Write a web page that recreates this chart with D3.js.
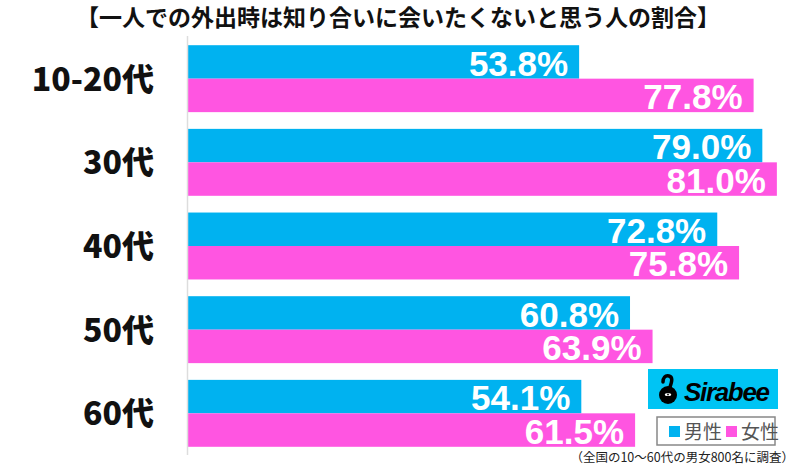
<!DOCTYPE html>
<html>
<head>
<meta charset="utf-8">
<script src="https://cdn.jsdelivr.net/npm/d3@7"></script>
<style>
  body { margin: 0; background: #fff; }
  svg { display: block; }
</style>
</head>
<body>
<div id="main"></div>
<script>
const categories = ["10-20代", "30代", "40代", "50代", "60代"];
const seriesNames = ["男性", "女性"];
const maleValues = [53.8, 79.0, 72.8, 60.8, 54.1];
const femaleValues = [77.8, 81.0, 75.8, 63.9, 61.5];

const width = 800;
const height = 466;
const colors = ["#00b2f0", "#ff55e1"];
const jpFont = "'Noto Sans CJK JP', sans-serif";
const numFont = "'Liberation Sans', Arial, sans-serif";

const svg = d3.select("#main").append("svg")
  .attr("width", width)
  .attr("height", height);

// title
svg.append("text")
  .attr("x", 398)
  .attr("y", 26)
  .attr("text-anchor", "middle")
  .style("font-family", jpFont)
  .style("font-weight", 700)
  .style("font-size", "23px")
  .attr("fill", "#111")
  .text("【一人での外出時は知り合いに会いたくないと思う人の割合】");

const x = d3.scaleLinear().domain([0, 100]).range([188, 915]);
const y = d3.scaleBand().domain(categories).range([36, 456])
  .paddingInner(0.2).paddingOuter(0.11);
const sub = d3.scaleBand().domain(seriesNames).range([0, y.bandwidth()]);

const rows = categories.map((c, i) => ({
  cat: c,
  vals: [
    { name: seriesNames[0], v: maleValues[i], color: colors[0] },
    { name: seriesNames[1], v: femaleValues[i], color: colors[1] }
  ]
}));

const g = svg.selectAll("g.row").data(rows).enter().append("g")
  .attr("class", "row")
  .attr("transform", d => "translate(0," + y(d.cat) + ")");

g.selectAll("rect").data(d => d.vals).enter().append("rect")
  .attr("x", x(0))
  .attr("y", d => sub(d.name))
  .attr("width", d => x(d.v) - x(0))
  .attr("height", sub.bandwidth())
  .attr("fill", d => d.color);

g.selectAll("text.val").data(d => d.vals).enter().append("text")
  .attr("class", "val")
  .attr("x", d => x(d.v) - 11)
  .attr("y", d => sub(d.name) + sub.bandwidth() - 3)
  .attr("text-anchor", "end")
  .style("font-family", numFont)
  .style("font-weight", 700)
  .style("font-size", "35px")
  .attr("fill", "#fff")
  .text(d => d.v.toFixed(1) + "%");

// category labels
g.append("text")
  .attr("x", 154)
  .attr("y", y.bandwidth() / 2 + 12)
  .attr("text-anchor", "end")
  .style("font-family", jpFont)
  .style("font-weight", 900)
  .style("font-size", "32px")
  .attr("fill", "#111")
  .text(d => d.cat);

// axis line
svg.append("line")
  .attr("x1", x(0) - 0.5).attr("x2", x(0) - 0.5)
  .attr("y1", 36).attr("y2", 455)
  .attr("stroke", "#ddd")
  .attr("stroke-width", 1.5);

// logo
const logo = svg.append("g").attr("transform", "translate(648,369)");
logo.append("rect").attr("width", 130).attr("height", 40).attr("fill", "#00c4f4");
logo.append("path")
  .attr("d", "M22,18 C24,12 25,8 21,7 C17,6 15,9 15,13")
  .attr("fill", "none").attr("stroke", "#000").attr("stroke-width", 3.5)
  .attr("stroke-linecap", "round");
logo.append("circle").attr("cx", 20).attr("cy", 26).attr("r", 9).attr("fill", "#000");
logo.append("ellipse").attr("cx", 20).attr("cy", 25.5).attr("rx", 3.2).attr("ry", 1.6).attr("fill", "#fff");
logo.append("circle").attr("cx", 20).attr("cy", 25.5).attr("r", 0.9).attr("fill", "#000");
logo.append("text")
  .attr("x", 36).attr("y", 32)
  .attr("textLength", 86)
  .style("font-family", numFont)
  .style("font-weight", 700)
  .style("font-style", "italic")
  .style("font-size", "26px")
  .attr("fill", "#000")
  .text("Sirabee");

// legend
const legend = svg.append("g").attr("transform", "translate(657,417)");
legend.append("rect").attr("width", 118).attr("height", 28)
  .attr("fill", "#fff").attr("stroke", "#888").attr("stroke-width", 1.5);
const items = legend.selectAll("g").data(seriesNames).enter().append("g")
  .attr("transform", (d, i) => "translate(" + (12 + i * 57) + ",0)");
items.append("rect").attr("y", 9).attr("width", 11).attr("height", 11)
  .attr("fill", (d, i) => colors[i]);
items.append("text").attr("x", 15).attr("y", 22)
  .style("font-family", jpFont)
  .style("font-size", "19px")
  .attr("fill", "#555")
  .text(d => d);

// footnote
svg.append("text")
  .attr("x", 794).attr("y", 462)
  .attr("text-anchor", "end")
  .style("font-family", jpFont)
  .style("font-size", "12.5px")
  .attr("fill", "#222")
  .text("（全国の10～60代の男女800名に調査）");
</script>
</body>
</html>
